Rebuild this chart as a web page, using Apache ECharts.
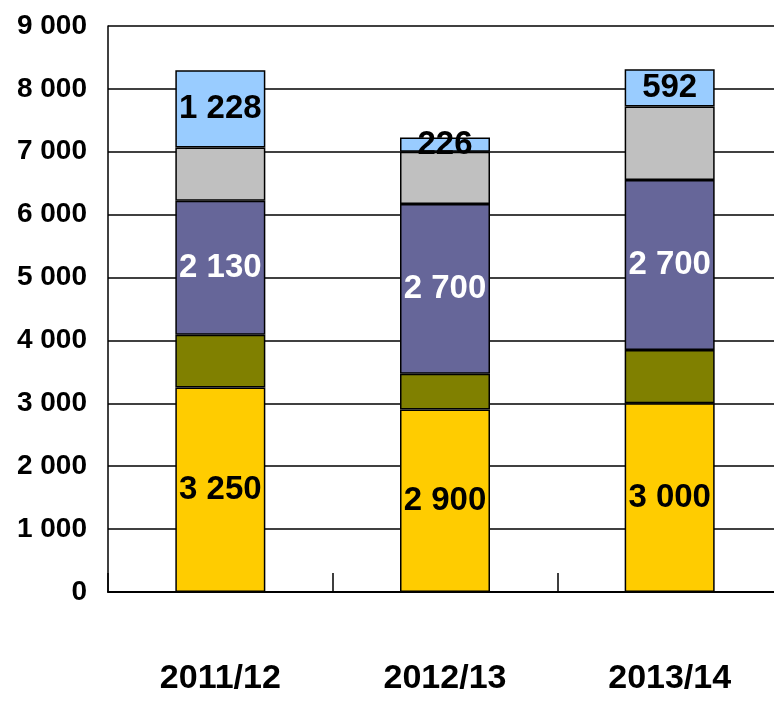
<!DOCTYPE html>
<html>
<head>
<meta charset="utf-8">
<script src="https://cdn.jsdelivr.net/npm/echarts@6/dist/echarts.min.js"></script>
<style>html,body{margin:0;padding:0;background:#fff;}#c{width:774px;height:704px;}</style>
</head>
<body>
<div id="c"></div>
<script>
const categories = ['2011/12', '2012/13', '2013/14'];
const yellowValues = [3250, 2900, 3000];
const oliveValues = [840, 570, 850];
const purpleValues = [2130, 2700, 2700];
const grayValues = [850, 830, 1170];
const blueValues = [1228, 226, 592];
const yTicks = [0, 1000, 2000, 3000, 4000, 5000, 6000, 7000, 8000, 9000];

const FONT = "'Liberation Sans', Arial, sans-serif";
function fmt(v) {
  return String(v).replace(/\B(?=(\d{3})+(?!\d))/g, ' ');
}
function seg(name, data, color, showLabel, labelColor) {
  return {
    name: name,
    type: 'bar',
    stack: 'total',
    data: data,
    barWidth: 90,
    itemStyle: { color: color, borderColor: '#000', borderWidth: 1.5 },
    label: {
      show: showLabel,
      position: 'inside',
      color: labelColor,
      fontFamily: FONT,
      fontWeight: 'bold',
      fontSize: 33,
      formatter: p => fmt(p.value)
    },
    emphasis: { disabled: true },
    animation: false
  };
}
const chart = echarts.init(document.getElementById('c'), null, { renderer: 'canvas' });
chart.setOption({
  backgroundColor: '#fff',
  animation: false,
  grid: { left: 108, top: 26, width: 674, bottom: 112, containLabel: false, outerBoundsMode: 'none' },
  xAxis: {
    type: 'category',
    data: categories,
    boundaryGap: true,
    axisLine: { lineStyle: { color: '#000', width: 2 } },
    axisTick: { show: true, inside: true, length: 19, lineStyle: { color: '#000', width: 1.5 } },
    axisLabel: {
      interval: 0, hideOverlap: false,
      margin: 70, color: '#000', fontFamily: FONT, fontWeight: 'bold', fontSize: 34, lineHeight: 34
    }
  },
  yAxis: {
    type: 'value',
    min: yTicks[0],
    max: yTicks[yTicks.length - 1],
    interval: 1000,
    axisLine: { show: true, lineStyle: { color: '#000', width: 1.5 } },
    axisTick: { show: false },
    splitLine: { show: true, lineStyle: { color: '#000', width: 1.5 } },
    axisLabel: {
      margin: 21, color: '#000', fontFamily: FONT, fontWeight: 'bold', fontSize: 28,
      formatter: v => fmt(v)
    }
  },
  series: [
    seg('s1', yellowValues, '#FFCC00', true, '#000'),
    seg('s2', oliveValues, '#808000', false, '#000'),
    seg('s3', purpleValues, '#666699', true, '#fff'),
    seg('s4', grayValues, '#C0C0C0', false, '#000'),
    seg('s5', blueValues, '#99CCFF', true, '#000')
  ]
});
</script>
</body>
</html>
